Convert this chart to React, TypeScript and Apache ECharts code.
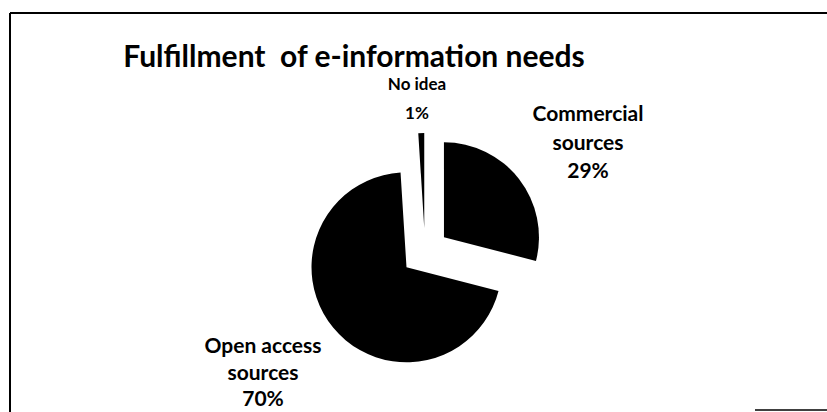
import React, { useEffect, useRef } from "react";
import * as echarts from "echarts";

const titleText = "Fulfillment  of e-information needs";
const categories = ["Commercial sources", "Open access sources", "No idea"];
const values = [29, 70, 1];

export default function App() {
  const ref = useRef<HTMLDivElement>(null);
  useEffect(() => {
    if (!ref.current) return;
    const chart = echarts.init(ref.current, undefined, { renderer: "svg" });
    const total = values.reduce((a, b) => a + b, 0);
    const labelText = categories.map(
      (name, i) => `${name.replace(/ sources$/, "\nsources")}\n${Math.round((values[i] / total) * 100)}%`
    );
    const labelPos: [number, number, number, number][] = [
      [588, 141, 21, 28.5],
      [263, 371, 21, 26.5],
      [417, 98, 17, 29],
    ];
    chart.setOption({
      animation: false,
      backgroundColor: "#fff",
      title: {
        text: titleText,
        left: 349,
        top: 35,
        textAlign: "center",
        textStyle: {
          fontFamily: "Lato",
          fontWeight: "bold",
          fontSize: 30,
          color: "#000",
        },
      },
      graphic: [
        { type: "line", shape: { x1: 10, y1: 13, x2: 827, y2: 13 }, style: { stroke: "#000", lineWidth: 2 } },
        { type: "line", shape: { x1: 10, y1: 13, x2: 10, y2: 412 }, style: { stroke: "#000", lineWidth: 2 } },
        { type: "line", shape: { x1: 755, y1: 410, x2: 827, y2: 410 }, style: { stroke: "#000", lineWidth: 1.5 } },
        ...labelText.map((t, i) => ({
          type: "text",
          x: labelPos[i][0],
          y: labelPos[i][1],
          z: 10,
          style: {
            text: t,
            fill: "#000",
            fontFamily: "Lato",
            fontWeight: "bold",
            fontSize: labelPos[i][2],
            lineHeight: labelPos[i][3],
            textAlign: "center",
            textVerticalAlign: "middle",
          },
        })),
      ],
      series: [
        {
          type: "pie",
          center: [425, 252],
          radius: 95,
          startAngle: 90,
          clockwise: true,
          selectedMode: "multiple",
          selectedOffset: 24,
          avoidLabelOverlap: false,
          emphasis: { disabled: true },
          itemStyle: { color: "#000" },
          select: { itemStyle: { color: "#000" } },
          labelLine: { show: false },
          label: { show: false },
          data: categories.map((name, i) => ({
            name,
            value: values[i],
            selected: true,
          })),
        },
      ],
    });
    return () => chart.dispose();
  }, []);
  return (
    <div
      ref={ref}
      style={{ position: "absolute", left: 0, top: 0, width: 827, height: 412, background: "#fff" }}
    />
  );
}
